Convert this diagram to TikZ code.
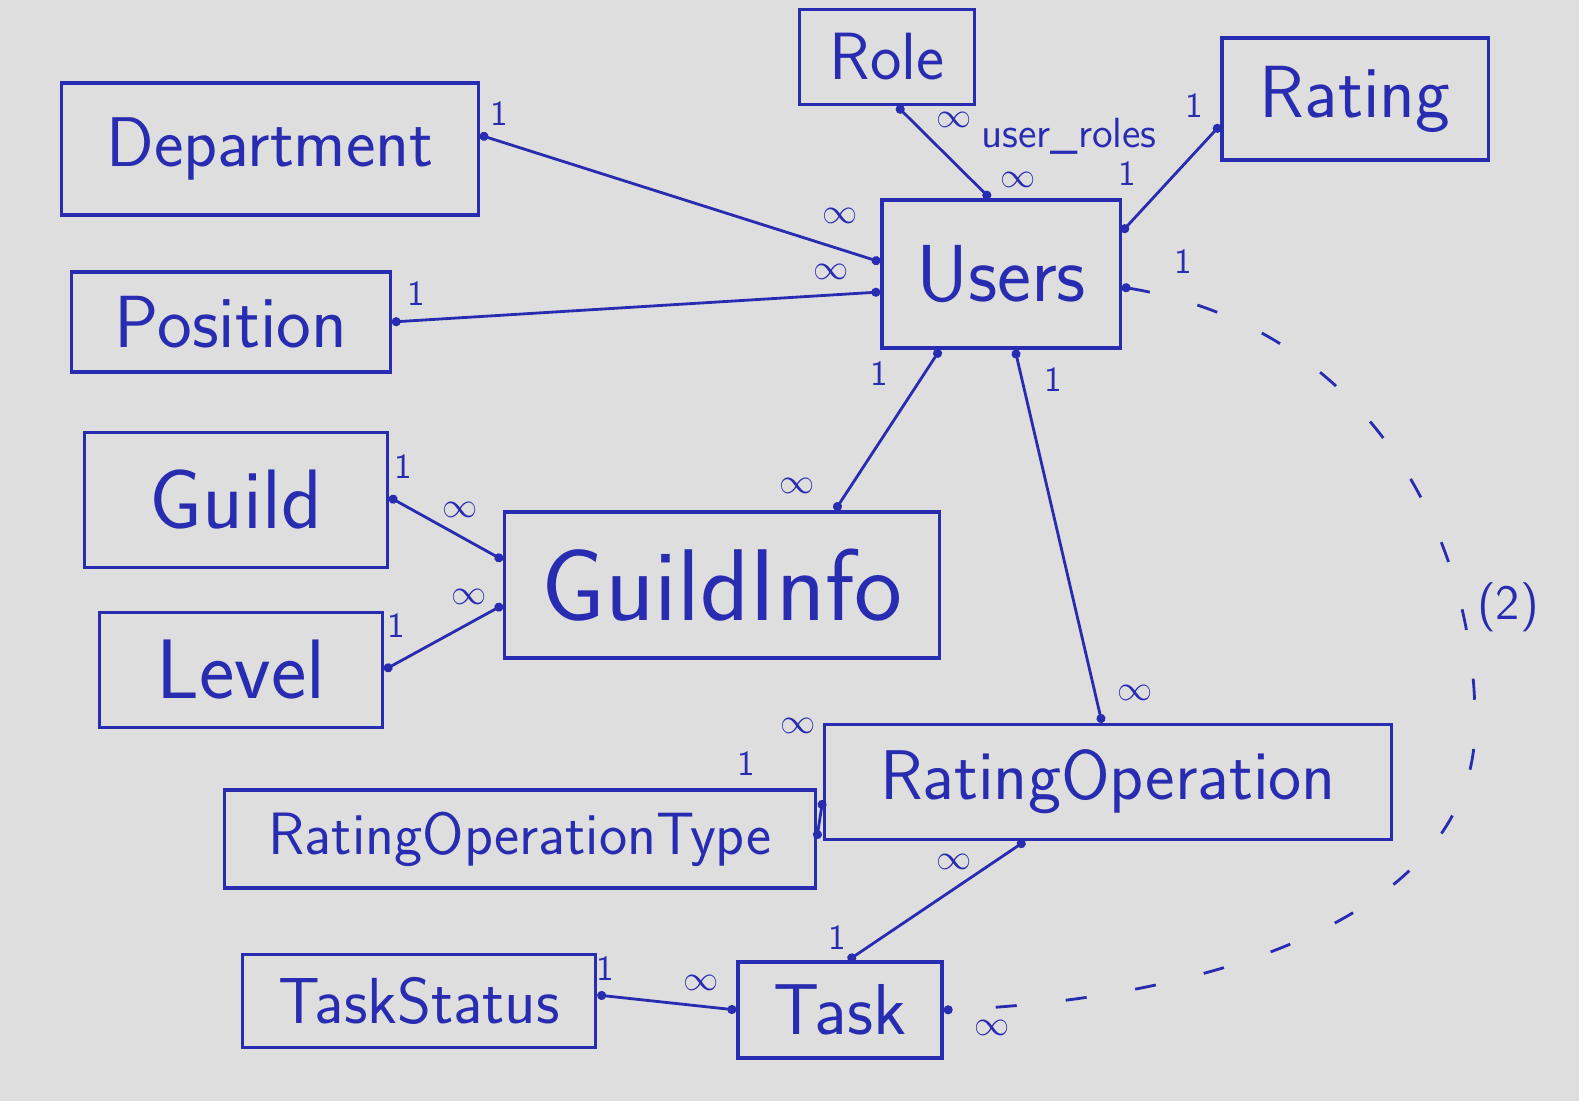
\documentclass[tikz,border=0pt]{standalone}
\usepackage{xcolor}
\usepackage{tikz}
\usetikzlibrary{arrows.meta, positioning, calc}
\renewcommand{\familydefault}{\sfdefault}
\definecolor{ink}{RGB}{40,44,176}
\definecolor{paper}{RGB}{222,222,222}

\begin{document}
\begin{tikzpicture}[
    x=0.01cm, y=-0.01cm,
    entity/.style={rectangle, draw=ink, line width=0.9pt, text=ink, inner sep=0pt, align=center},
    link/.style={draw=ink, line width=0.8pt, {Circle[length=0.9mm]}-{Circle[length=0.9mm]}},
    optlink/.style={link, dash pattern=on 6pt off 14pt},
    card/.style={text=ink, inner sep=1pt, font=\fontsize{10}{12}\selectfont},
]

% Paper
\fill[paper] (0,0) rectangle (1579,1101);

% Entities
\node[entity, minimum width=1.75cm, minimum height=0.95cm, font=\fontsize{19}{22}\selectfont] (role) at (887,57) {Role};
\node[entity, minimum width=2.66cm, minimum height=1.22cm, font=\fontsize{21}{24}\selectfont] (rating) at (1355,99) {Rating};
\node[entity, minimum width=4.16cm, minimum height=1.32cm, font=\fontsize{20}{24}\selectfont] (department) at (270,149) {Department};
\node[entity, minimum width=2.38cm, minimum height=1.48cm, font=\fontsize{23}{26}\selectfont] (users) at (1001,274) {Users};
\node[entity, minimum width=3.18cm, minimum height=1.00cm, font=\fontsize{21}{24}\selectfont] (position) at (231,322) {Position};
\node[entity, minimum width=3.03cm, minimum height=1.35cm, font=\fontsize{24}{27}\selectfont] (guild) at (236,500) {Guild};
\node[entity, minimum width=4.35cm, minimum height=1.46cm, font=\fontsize{29}{32}\selectfont] (guildinfo) at (722,585) {GuildInfo};
\node[entity, minimum width=2.83cm, minimum height=1.15cm, font=\fontsize{24}{27}\selectfont] (level) at (241,670) {Level};
\node[entity, minimum width=5.67cm, minimum height=1.15cm, font=\fontsize{20}{24}\selectfont] (ratingop) at (1108,782) {RatingOperation};
\node[entity, minimum width=5.90cm, minimum height=0.98cm, font=\fontsize{17}{20}\selectfont] (ratingoptype) at (520,839) {RatingOperationType};
\node[entity, minimum width=3.53cm, minimum height=0.93cm, font=\fontsize{18.5}{22}\selectfont] (taskstatus) at (419,1001) {TaskStatus};
\node[entity, minimum width=2.04cm, minimum height=0.96cm, font=\fontsize{20.5}{24}\selectfont] (task) at (840,1010) {Task};

% Links to Users
\draw[link] ($(department.east)+(0,-14)$) -- node[card, pos=.05, above=3pt] (depOne) {1} node[card, pos=.9, above=6pt] (depMany) {$\infty$} ($(users.west)+(0,-12)$);
\draw[link] (position.east) -- node[card, pos=.05, above=3pt] (posOne) {1} node[card, pos=.9, above=3pt] (posMany) {$\infty$} ($(users.west)+(0,18)$);
\draw[link] ($(role.south)+(10,0)$) -- node[card, pos=.15, right=6pt] (roleMany) {$\infty$} node[card, pos=.8, right=7pt] (userRoleMany) {$\infty$} ($(users.north)+(-11,0)$);
\node[card, font=\fontsize{12}{14}\selectfont] (userroles) at ($(role.south east)+(93,30)$) {user\_roles};
\draw[link] ($(users.east)+(0,-42)$) -- node[card, pos=.55, left=10pt] (usrRatOne) {1} node[card, pos=.95, above left=3pt] (ratOne) {1} ($(rating.west)+(0,26)$);

% Links from Users
\draw[link] ($(users.south)+(-61,0)$) -- node[card, pos=.15, left=9pt] (usrGiOne) {1} node[card, pos=.85, left=9pt] (giMany) {$\infty$} ($(guildinfo.north)+(113,0)$);
\draw[link] ($(users.south)+(14,0)$) -- node[card, pos=.08, right=5pt] (usrRoOne) {1} node[card, pos=.92, right=5pt] (roMany) {$\infty$} ($(ratingop.north)+(-6,0)$);
\draw[optlink] ($(users.east)+(0,13)$) .. controls (1380,330) and (1475,550) .. (1475,720) .. controls (1480,920) and (1200,1000) .. (task.east);
\node[card] (dashOne) at ($(users.east)+(62,-12)$) {1};
\node[card] (dashMany) at ($(task.east)+(48,18)$) {$\infty$};
\node[card, font=\fontsize{14}{16}\selectfont] (two) at (1508,607) {(2)};

% GuildInfo
\draw[link] ($(guild.east)+(0,-3)$) -- node[card, pos=.12, above=6pt] (guildOne) {1} node[card, pos=.62, above=4pt] (guildMany) {$\infty$} ($(guildinfo.west)+(0,-25)$);
\draw[link] (level.east) -- node[card, pos=.1, above=6pt] (levelOne) {1} node[card, pos=.72, above=4pt] (levelMany) {$\infty$} ($(guildinfo.west)+(0,20)$);

% RatingOperation
\draw[link] (ratingoptype.east) -- ($(ratingop.west)+(0,18)$);
\node[card] (typeOne) at ($(ratingoptype.north east)+(-70,-25)$) {1};
\node[card] (typeMany) at ($(ratingop.north west)+(-25,3)$) {$\infty$};
\draw[link] ($(ratingop.south)+(-83,0)$) -- node[card, pos=.4, above=4pt] (taskRoMany) {$\infty$} node[card, pos=.97, above left=1pt] (taskRoOne) {1} ($(task.north)+(8,0)$);

% Task
\draw[link] ($(taskstatus.east)+(0,-6)$) -- node[card, pos=.06, above=3pt] (statusOne) {1} node[card, pos=.75, above=3pt] (statusMany) {$\infty$} (task.west);

\end{tikzpicture}
\end{document}
